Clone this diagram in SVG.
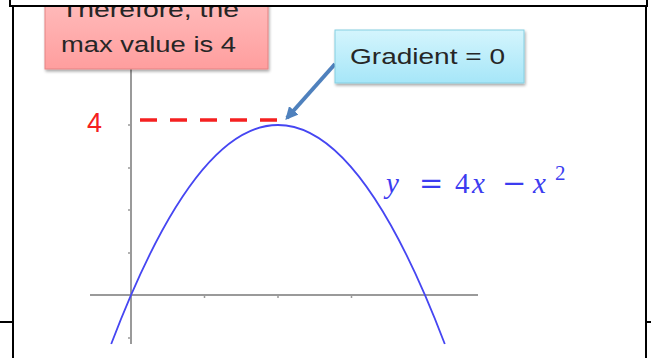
<svg xmlns="http://www.w3.org/2000/svg" width="651" height="358" viewBox="0 0 651 358">
<defs>
<linearGradient id="gRed" x1="0" y1="0" x2="0" y2="1">
<stop offset="0" stop-color="#ffc4c4"/>
<stop offset="1" stop-color="#ff9e9e"/>
</linearGradient>
<linearGradient id="gBlue" x1="0" y1="0" x2="0" y2="1">
<stop offset="0" stop-color="#d4f5fd"/>
<stop offset="1" stop-color="#a6e6f8"/>
</linearGradient>
<filter id="sh" x="-10%" y="-10%" width="130%" height="140%">
<feGaussianBlur in="SourceAlpha" stdDeviation="1.5"/>
<feOffset dx="1" dy="2" result="b"/>
<feComponentTransfer><feFuncA type="linear" slope="0.35"/></feComponentTransfer>
<feMerge><feMergeNode/><feMergeNode in="SourceGraphic"/></feMerge>
</filter>
<marker id="ah" viewBox="0 0 10 10" refX="8" refY="5" markerWidth="3.2" markerHeight="3.2" orient="auto">
<path d="M0,0 L10,5 L0,10 z" fill="#4f81bd"/>
</marker>
<style>
.frame{stroke:#000;stroke-width:2;fill:none}
.axis{stroke:#9a9a9a;stroke-width:2;fill:none}
.tick{stroke:#9a9a9a;stroke-width:1.5}
.box{font-family:"Liberation Sans",Arial,sans-serif;font-size:22px;fill:#262626}
.eq{font-family:"Liberation Serif","Times New Roman",serif;font-size:29px;fill:#3c3cf0}
.op{font-family:"DejaVu Serif",serif}
.it{font-style:italic}
</style>
</defs>
<rect width="651" height="358" fill="#fff"/>

<g id="axes">
<line class="axis" x1="131" y1="64" x2="131" y2="344"/>
<line class="axis" x1="90" y1="295" x2="478" y2="295"/>
<line class="tick" x1="128" y1="125" x2="131" y2="125"/>
<line class="tick" x1="128" y1="168" x2="131" y2="168"/>
<line class="tick" x1="128" y1="210" x2="131" y2="210"/>
<line class="tick" x1="128" y1="253" x2="131" y2="253"/>
<line class="tick" x1="128" y1="338" x2="131" y2="338"/>
<line class="tick" x1="204.5" y1="295" x2="204.5" y2="298"/>
<line class="tick" x1="278" y1="295" x2="278" y2="298"/>
<line class="tick" x1="351.5" y1="295" x2="351.5" y2="298"/>
</g>

<g id="curve">
<path d="M111.2,344 Q278,-94 444.8,344" fill="none" stroke="#4646f2" stroke-width="1.8"/>
</g>

<g id="max-line">
<line x1="140" y1="120" x2="283" y2="120" stroke="#f52020" stroke-width="3.5" stroke-dasharray="17,13"/>
<text x="87" y="132" font-family="Liberation Sans,Arial,sans-serif" font-size="27" fill="#f52020">4</text>
</g>

<g id="equation">
<text class="eq" y="193"><tspan class="it" x="386">y</tspan><tspan class="op" x="419">=</tspan><tspan x="455">4</tspan><tspan class="it" x="472">x</tspan><tspan class="op" x="502">−</tspan><tspan class="it" x="533">x</tspan><tspan x="555" y="180" font-size="21">2</tspan></text>
</g>

<g id="connectors">
<line x1="335" y1="64" x2="287" y2="118" stroke="#4f81bd" stroke-width="4" marker-end="url(#ah)"/>
</g>

<g id="node-max">
<rect x="45" y="-20" width="223" height="89" fill="url(#gRed)" stroke="#e58383" stroke-width="1" filter="url(#sh)"/>
<text class="box" x="61" y="17" textLength="178" lengthAdjust="spacingAndGlyphs">Therefore, the</text>
<text class="box" x="61" y="52" textLength="175" lengthAdjust="spacingAndGlyphs">max value is 4</text>
</g>

<g id="node-gradient">
<rect x="335" y="30" width="189" height="53" fill="url(#gBlue)" stroke="#86cfe2" stroke-width="1" filter="url(#sh)"/>
<text class="box" x="350" y="64" textLength="155" lengthAdjust="spacingAndGlyphs">Gradient = 0</text>
</g>

<g id="frame">
<rect x="0" y="0" width="651" height="6" fill="#fff"/>
<line class="frame" x1="10" y1="0" x2="10" y2="6"/>
<line class="frame" x1="9" y1="6" x2="648" y2="6"/>
<line class="frame" x1="647" y1="0" x2="647" y2="6"/>
<line class="frame" x1="13" y1="6" x2="13" y2="358"/>
<line class="frame" x1="646" y1="6" x2="646" y2="358"/>
<line class="frame" x1="0" y1="322" x2="13" y2="322"/>
<line class="frame" x1="646" y1="322" x2="651" y2="322"/>
</g>
</svg>
